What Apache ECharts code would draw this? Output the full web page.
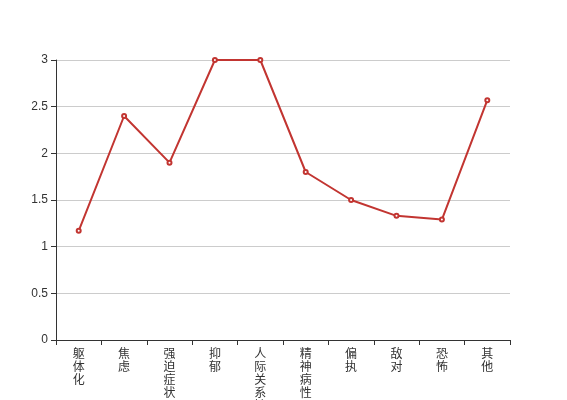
<!DOCTYPE html>
<html>
<head>
<meta charset="utf-8">
<script src="https://cdn.jsdelivr.net/npm/echarts@6/dist/echarts.min.js"></script>
<style>
  html, body { margin: 0; padding: 0; background: #fff; }
  #chart { width: 567px; height: 400px; }
</style>
</head>
<body>
<div id="chart"></div>
<script>
var categories = ["躯体化", "焦虑", "强迫症状", "抑郁", "人际关系敏感", "精神病性", "偏执", "敌对", "恐怖", "其他"];
var scores = [1.17, 2.4, 1.9, 3, 3, 1.8, 1.5, 1.33, 1.29, 2.57];

var chart = echarts.init(document.getElementById("chart"));
chart.setOption({
  animation: false,
  textStyle: { fontFamily: "'Liberation Sans', 'Noto Sans CJK SC', sans-serif" },
  grid: {
    top: 60,
    left: 56,
    right: 57,
    bottom: 60,
    outerBoundsMode: "none",
    containLabel: false
  },
  xAxis: {
    type: "category",
    data: categories,
    boundaryGap: true,
    axisLine: { lineStyle: { color: "#333" } },
    axisTick: { show: true, lineStyle: { color: "#333" } },
    axisLabel: {
      color: "#333",
      fontSize: 12,
      lineHeight: 13,
      interval: 0,
      formatter: function (v) {
        return v.split("").join("\n");
      }
    }
  },
  yAxis: {
    type: "value",
    min: 0,
    max: 3,
    interval: 0.5,
    axisLine: { show: true, lineStyle: { color: "#333" } },
    axisTick: { show: true, lineStyle: { color: "#333" } },
    axisLabel: { color: "#333", fontSize: 12 },
    splitLine: { lineStyle: { color: "#ccc" } }
  },
  series: [
    {
      type: "line",
      data: scores,
      symbol: "emptyCircle",
      symbolSize: 4,
      itemStyle: { color: "#c23531" },
      lineStyle: { color: "#c23531", width: 2 }
    }
  ]
});
</script>
</body>
</html>
